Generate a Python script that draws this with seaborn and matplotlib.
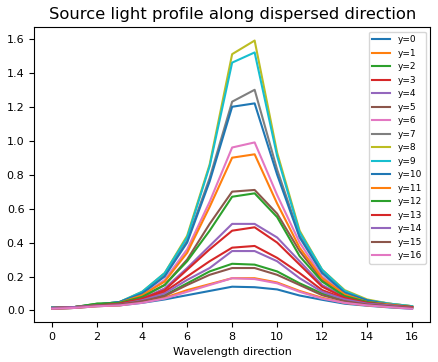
import matplotlib
matplotlib.use("Agg")
import matplotlib.pyplot as plt
import seaborn as sns
import pandas as pd

# Wavelength pixel positions
wavelength = list(range(17))

# Profile for each spatial row (y=0 .. y=16)
row_0 = [0.010, 0.015, 0.025, 0.030, 0.045, 0.065, 0.090, 0.115, 0.140, 0.137, 0.124, 0.088, 0.063, 0.040, 0.028, 0.018, 0.010]
row_1 = [0.010, 0.015, 0.025, 0.030, 0.050, 0.075, 0.120, 0.155, 0.190, 0.190, 0.165, 0.115, 0.075, 0.045, 0.030, 0.020, 0.015]
row_2 = [0.015, 0.020, 0.040, 0.040, 0.060, 0.090, 0.160, 0.230, 0.275, 0.270, 0.230, 0.160, 0.100, 0.060, 0.040, 0.025, 0.020]
row_3 = [0.015, 0.020, 0.030, 0.040, 0.065, 0.110, 0.200, 0.290, 0.370, 0.380, 0.310, 0.220, 0.120, 0.070, 0.040, 0.030, 0.020]
row_4 = [0.015, 0.020, 0.030, 0.040, 0.070, 0.130, 0.250, 0.380, 0.510, 0.510, 0.430, 0.290, 0.150, 0.080, 0.045, 0.030, 0.020]
row_5 = [0.015, 0.020, 0.030, 0.045, 0.080, 0.150, 0.300, 0.510, 0.700, 0.710, 0.570, 0.350, 0.180, 0.090, 0.050, 0.030, 0.020]
row_6 = [0.015, 0.020, 0.030, 0.045, 0.090, 0.180, 0.360, 0.640, 0.960, 0.990, 0.680, 0.400, 0.200, 0.100, 0.055, 0.035, 0.020]
row_7 = [0.020, 0.020, 0.035, 0.050, 0.100, 0.210, 0.410, 0.780, 1.230, 1.300, 0.830, 0.440, 0.230, 0.110, 0.060, 0.040, 0.025]
row_8 = [0.020, 0.020, 0.035, 0.050, 0.110, 0.220, 0.440, 0.860, 1.510, 1.590, 0.930, 0.470, 0.240, 0.120, 0.065, 0.040, 0.025]
row_9 = [0.020, 0.020, 0.035, 0.050, 0.110, 0.220, 0.430, 0.850, 1.460, 1.520, 0.910, 0.460, 0.240, 0.115, 0.060, 0.040, 0.025]
row_10 = [0.015, 0.020, 0.035, 0.050, 0.100, 0.200, 0.400, 0.760, 1.200, 1.220, 0.800, 0.430, 0.220, 0.105, 0.060, 0.035, 0.020]
row_11 = [0.015, 0.020, 0.030, 0.045, 0.090, 0.170, 0.340, 0.610, 0.900, 0.920, 0.630, 0.370, 0.190, 0.095, 0.050, 0.035, 0.020]
row_12 = [0.015, 0.020, 0.040, 0.045, 0.080, 0.150, 0.290, 0.470, 0.670, 0.690, 0.550, 0.320, 0.170, 0.085, 0.050, 0.030, 0.020]
row_13 = [0.015, 0.020, 0.030, 0.040, 0.070, 0.120, 0.240, 0.360, 0.470, 0.490, 0.400, 0.270, 0.140, 0.075, 0.045, 0.030, 0.020]
row_14 = [0.015, 0.020, 0.030, 0.035, 0.060, 0.100, 0.180, 0.250, 0.350, 0.350, 0.290, 0.190, 0.110, 0.065, 0.040, 0.030, 0.015]
row_15 = [0.010, 0.015, 0.030, 0.035, 0.055, 0.085, 0.150, 0.210, 0.250, 0.250, 0.210, 0.150, 0.090, 0.055, 0.035, 0.025, 0.015]
row_16 = [0.010, 0.015, 0.025, 0.030, 0.045, 0.070, 0.110, 0.150, 0.190, 0.185, 0.160, 0.110, 0.070, 0.045, 0.030, 0.020, 0.010]

rows = [row_0, row_1, row_2, row_3, row_4, row_5, row_6, row_7, row_8,
        row_9, row_10, row_11, row_12, row_13, row_14, row_15, row_16]
labels = [f"y={i}" for i in range(len(rows))]

# Long-form table for seaborn
df = pd.DataFrame({
    "x": wavelength * len(rows),
    "flux": [v for r in rows for v in r],
    "row": [lab for lab in labels for _ in wavelength],
})

fig, ax = plt.subplots(figsize=(4.38, 3.62), dpi=100)
fig.subplots_adjust(left=0.078, right=0.982, bottom=0.110, top=0.925)

sns.lineplot(
    data=df,
    x="x",
    y="flux",
    hue="row",
    hue_order=labels,
    palette=sns.color_palette("tab10", len(rows)),
    linewidth=1.5,
    ax=ax,
)

ax.set_title("Source light profile along dispersed direction", fontsize=11.8)
ax.set_xlabel("Wavelength direction", fontsize=8)
ax.set_ylabel("")
ax.tick_params(labelsize=8)
ax.set_xticks(range(0, 17, 2))

handles, _ = ax.get_legend_handles_labels()
ax.legend(handles, labels, loc="upper right", fontsize=6.5, title=None)

fig.savefig("out.png", dpi=100)
